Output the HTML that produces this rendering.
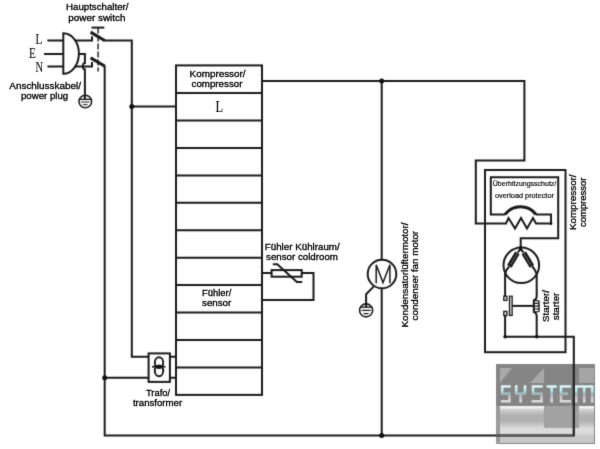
<!DOCTYPE html>
<html><head><meta charset="utf-8">
<style>
html,body{margin:0;padding:0;background:#fff;width:600px;height:449px;overflow:hidden}
svg{display:block}
#w{width:600px;height:449px}
text{font-family:"Liberation Sans",sans-serif;fill:#000;stroke:#000;stroke-width:0.3px}
.sm text{stroke-width:0.2px;fill:#111;stroke:#111}
.s{font-family:"Liberation Serif",serif;stroke-width:0.12px;fill:#111;stroke:#111}
</style></head><body>
<div id="w"><svg width="600" height="449" viewBox="0 0 600 449">
<defs><filter id="bt" color-interpolation-filters="sRGB" filterUnits="userSpaceOnUse" x="0" y="0" width="600" height="449"><feConvolveMatrix order="3" kernelMatrix="1 10 1 10 100 10 1 10 1" divisor="144" edgeMode="none" preserveAlpha="false"/></filter><filter id="bl" color-interpolation-filters="sRGB" filterUnits="userSpaceOnUse" x="0" y="0" width="600" height="449"><feConvolveMatrix order="3" kernelMatrix="1 6 1 6 36 6 1 6 1" divisor="64" edgeMode="duplicate"/></filter>
<linearGradient id="wg" gradientUnits="userSpaceOnUse" x1="0" y1="406" x2="0" y2="443">
<stop offset="0" stop-color="#fafafa"/>
<stop offset="0.05" stop-color="#eaeaea"/>
<stop offset="0.11" stop-color="#cecece"/>
<stop offset="0.25" stop-color="#b2b2b2"/>
<stop offset="0.4" stop-color="#b0b0b0"/>
<stop offset="0.52" stop-color="#c8c8c8"/>
<stop offset="0.6" stop-color="#dadada"/>
<stop offset="0.72" stop-color="#dcdcdc"/>
<stop offset="0.8" stop-color="#cacaca"/>
<stop offset="1" stop-color="#c6c6c6"/>
</linearGradient>
<linearGradient id="lg" gradientUnits="userSpaceOnUse" x1="0" y1="385" x2="0" y2="403">
<stop offset="0" stop-color="#e8f8f8"/>
<stop offset="0.35" stop-color="#aee6ea"/>
<stop offset="0.5" stop-color="#9cb0b4"/>
<stop offset="0.65" stop-color="#c8c0c4"/>
<stop offset="1" stop-color="#e4e4e4"/>
</linearGradient>
</defs>
<g filter="url(#bl)"><rect width="600" height="449" fill="#fff"/>

<!-- watermark -->
<g>
<rect x="496" y="364" width="99" height="80" fill="#858585"/>
<rect x="496" y="406" width="4" height="38" fill="#9a9a9a"/>
<polygon points="500,368 512,368 500,383" fill="#a9a9a9"/>
<polygon points="544,368 544,383 530,383" fill="#a9a9a9"/>
<rect x="579" y="368" width="15" height="15" fill="#a5a5a5"/>
<path d="M500,406 H544.2 V427.4 H579 V406 H594 V443 H500 Z" fill="url(#wg)"/>
<rect x="544.2" y="406" width="34.8" height="21.4" fill="#a2a2a2"/>
<g fill="none" stroke="url(#lg)" stroke-width="2.6" stroke-linecap="butt">
<path d="M510.8,386.5 H502.2 V393.8 H509.4 V401.2 H500.8"/>
<path d="M516.2,385.3 V393.8 H525 M525,385.3 V393.8 M520.6,393.8 V402.4"/>
<path d="M542.8,386.5 H533 V393.8 H541.5 V401.2 H531.6"/>
<path d="M546.7,386.5 H556.7 M551.7,386.5 V402.4"/>
<path d="M571,386.5 H561 V401.2 H571 M561,393.8 H568"/>
<path d="M576.2,402.4 V386.5 H592.2 V402.4 M584.2,386.5 V402.4"/>
</g>
</g>

<g fill="none" stroke="#1a1a1a" stroke-width="2" stroke-linejoin="miter" stroke-linecap="butt">
<!-- plug input lines -->
<path d="M47.4,40.4 H63.3 M44,54 H63.3 M47.4,66.4 H63.3"/>
<!-- plug body -->
<path d="M63.3,33.3 A15.6,20.2 0 0 1 63.3,73.7 Z"/>
<!-- L out -->
<path d="M74.7,40.6 H92 V36.3"/>
<!-- N out -->
<path d="M74.5,66.4 H92 V62"/>
<!-- E out with hop -->
<path d="M78.8,54 H84.9 V63 A2,3.3 0 0 0 84.9,69.6 V99.5"/>
<!-- ground 1 -->
<circle cx="85.3" cy="101.5" r="6.3" stroke-width="1.6"/>
<path d="M79.2,99.3 H91.4" stroke-width="1.4"/>
<path d="M81,102 H89.4 M82.8,104.8 H87.6" stroke-width="1.1"/>

<!-- switch -->
<path d="M91.5,27.6 H104.3"/>
<path d="M98.1,27.6 V71.5" stroke-dasharray="6,2" stroke-width="1.4"/>
<path d="M90.6,32.1 L105,40.8 M90.6,57.9 L105,66.3" stroke-width="3"/>
<path d="M105,40.6 H131.8 V356.7 H148.6"/>
<path d="M104.7,66.2 V435.6 H573.8 V336.8 H504.8"/>
<path d="M131.8,106.6 H176"/>
<path d="M104.7,377.8 H148.6"/>
<!-- trafo -->
<rect x="148.6" y="353.4" width="21.3" height="28.5"/>
<path d="M169.9,356.7 H176 M169.9,377.8 H176"/>
<ellipse cx="159" cy="362.6" rx="4.2" ry="5.3"/>
<ellipse cx="159" cy="370.9" rx="4.2" ry="5.3"/>
<path d="M152,366.7 H165.4" stroke-width="1.8"/>

<!-- block -->
<rect x="176" y="65.4" width="86" height="329.5"/>
<path d="M176,92.9 H262 M176,120.4 H262 M176,147.9 H262 M176,175.4 H262 M176,202.8 H262 M176,230.3 H262 M176,257.7 H262 M176,285.1 H262 M176,312.5 H262 M176,340.1 H262 M176,367.5 H262"/>

<!-- top right line -->
<path d="M262,80.9 H524.4 V160.6 H475.8 V223.5 H506 L508.5,218 L515,228.5 L521,218 L527,228.5 L533,218 L536,223.5 H551 V214.5 H536"/>
<path d="M505,214.5 H490.8 V177.2 H558.2 V238.3 H520.7 V247.5"/>
<path d="M505,214.5 A19.45,19.45 0 0 1 536,214.5" stroke-width="3"/>
<!-- fan motor -->
<path d="M381.7,80.9 V260 M381.7,288 V435.6"/>
<circle cx="382" cy="274" r="14.3"/>
<path d="M376.2,283.2 V264.8 L383,282.6 L389.9,264.8 V283.2" stroke-width="1.5"/>
<path d="M373.6,286.6 L366.1,294.2 V307.2"/>
<circle cx="366.1" cy="310.4" r="6.5" stroke-width="1.6"/>
<path d="M360,307.2 H372.2" stroke-width="1.4"/>
<path d="M361.7,310.4 H370.5 M363.6,313.6 H368.6" stroke-width="1.1"/>

<!-- sensor coldroom -->
<path d="M262,273.1 H271.6 M301.7,273.1 H313.5 V299.9 H262"/>
<rect x="271.6" y="270.1" width="30.1" height="6.6"/>
<path d="M272.8,264.2 H277.3 L296.9,282 H302.2"/>

<!-- compressor -->
<rect x="485" y="170" width="80.5" height="182.2"/>
<circle cx="521.3" cy="265.3" r="17.8"/>
<path d="M520.6,247.5 Q519.8,250.5 517.6,252.5 M509.3,266.4 Q507,268.5 505.1,273 M520.6,247.5 Q521.4,250.5 523.6,252.5 M531.9,266.4 Q534.6,268.5 536.7,274.2"/>
<path d="M505.1,273 V296 M505.1,315.5 V336.8"/>
<rect x="503.8" y="296.2" width="3.1" height="4.2" stroke-width="1.3" fill="#ddd"/>
<rect x="503.8" y="311.4" width="3.1" height="4.2" stroke-width="1.3" fill="#ddd"/>
<rect x="509.4" y="296.2" width="2.8" height="19.3" stroke-width="1.2" fill="#bdbdbd"/>
<path d="M512.2,305.9 H533.6"/>
<path d="M536.7,274.2 V296.4 Q536.7,299 533.8,300.5 V311.8 Q536.7,313 536.7,316 V336.8"/>
<path d="M533.8,300.6 h3 a2.6,1.4 0 0 1 0,2.8 h-3 M533.8,303.4 h3 a2.6,1.4 0 0 1 0,2.8 h-3 M533.8,306.2 h3 a2.6,1.4 0 0 1 0,2.8 h-3 M533.8,309 h3 a2.6,1.4 0 0 1 0,2.8 h-3" stroke-width="1.2"/>
</g>

<!-- coils on compressor motor -->
<g stroke="#1c1c1c" stroke-width="5.2" fill="none">
<path d="M517.4,252.8 L509.3,266.4 M523.8,252.8 L531.9,266.4"/>
</g>
<g stroke="#e8e8e8" stroke-width="0.9" fill="none" stroke-dasharray="1,1.4">
<path d="M516.6,254.6 L510.2,265.2 M524.6,254.6 L531,265.2"/>
</g>
<!-- watermark overlay on lines -->
<path d="M496,435.6 H572.8" stroke="#585858" stroke-width="2" fill="none"/>
<path d="M573.8,364 V434.6" stroke="#2a2a2a" stroke-width="2" fill="none"/>
<!-- dots -->
<g fill="#111">
<circle cx="131.8" cy="106.6" r="2.5"/>
<circle cx="104.7" cy="377.8" r="2.5"/>
<circle cx="381.7" cy="80.9" r="2.5"/>
<circle cx="381.7" cy="435.6" r="2.5"/>
<circle cx="551" cy="223.5" r="1.4"/>
<circle cx="505.1" cy="336.8" r="1.8"/>
<circle cx="536.7" cy="336.8" r="1.8"/>
<circle cx="520.7" cy="247.5" r="1.6"/>
<ellipse cx="159" cy="366.7" rx="3.5" ry="1.8"/>
</g>

</g>
<g filter="url(#bt)">
<!-- serif labels -->
<text class="s" x="35.5" y="43.6" font-size="15" textLength="6.8" lengthAdjust="spacingAndGlyphs">L</text>
<text class="s" x="29" y="58.1" font-size="15" textLength="6.8" lengthAdjust="spacingAndGlyphs">E</text>
<text class="s" x="35.5" y="71.7" font-size="15" textLength="7.6" lengthAdjust="spacingAndGlyphs">N</text>
<text class="s" x="215.6" y="111.8" font-size="16.6" textLength="7.6" lengthAdjust="spacingAndGlyphs">L</text>

<!-- sans labels -->
<g font-size="9">
<text x="66" y="10.3" textLength="62.5" lengthAdjust="spacingAndGlyphs">Hauptschalter/</text>
<text x="68.3" y="20.6" textLength="57.2" lengthAdjust="spacingAndGlyphs">power switch</text>
<text x="9.3" y="89.2" textLength="71.7" lengthAdjust="spacingAndGlyphs">Anschlusskabel/</text>
<text x="21" y="99.4" textLength="47.2" lengthAdjust="spacingAndGlyphs">power plug</text>
<text x="189.6" y="76.8" textLength="56" lengthAdjust="spacingAndGlyphs">Kompressor/</text>
<text x="191.6" y="87.3" textLength="50.8" lengthAdjust="spacingAndGlyphs">compressor</text>
<text x="264.8" y="249.6" textLength="74.9" lengthAdjust="spacingAndGlyphs">Fühler Kühlraum/</text>
<text x="266.1" y="260.3" textLength="71.8" lengthAdjust="spacingAndGlyphs">sensor coldroom</text>
<text x="202" y="295.7" textLength="29.3" lengthAdjust="spacingAndGlyphs">Fühler/</text>
<text x="202" y="306.4" textLength="29.3" lengthAdjust="spacingAndGlyphs">sensor</text>
<text x="146" y="395.5" textLength="24" lengthAdjust="spacingAndGlyphs">Trafo/</text>
<text x="132.9" y="405.9" textLength="49.3" lengthAdjust="spacingAndGlyphs">transformer</text>
</g>
<g font-size="7" class="sm">
<text x="492.8" y="185.6" textLength="63.5" lengthAdjust="spacingAndGlyphs">Überhitzungsschutz/</text>
<text x="495" y="197.8" textLength="58.9" lengthAdjust="spacingAndGlyphs">overload protector</text>
</g>
<g font-size="9.5">
<text transform="translate(407.5,327.5) rotate(-90)" textLength="105" lengthAdjust="spacingAndGlyphs">Kondensatorlüftermotor/</text>
<text transform="translate(417.5,320.4) rotate(-90)" textLength="89.5" lengthAdjust="spacingAndGlyphs">condenser fan motor</text>
<text transform="translate(575.6,230.1) rotate(-90)" textLength="55.7" lengthAdjust="spacingAndGlyphs">Kompressor/</text>
<text transform="translate(586.4,227.1) rotate(-90)" textLength="49.5" lengthAdjust="spacingAndGlyphs">compressor</text>
<text transform="translate(548.8,322) rotate(-90)" textLength="31.9" lengthAdjust="spacingAndGlyphs">Starter/</text>
<text transform="translate(559.2,320.2) rotate(-90)" textLength="27.5" lengthAdjust="spacingAndGlyphs">starter</text>
</g>
</g></svg></div>
</body></html>
